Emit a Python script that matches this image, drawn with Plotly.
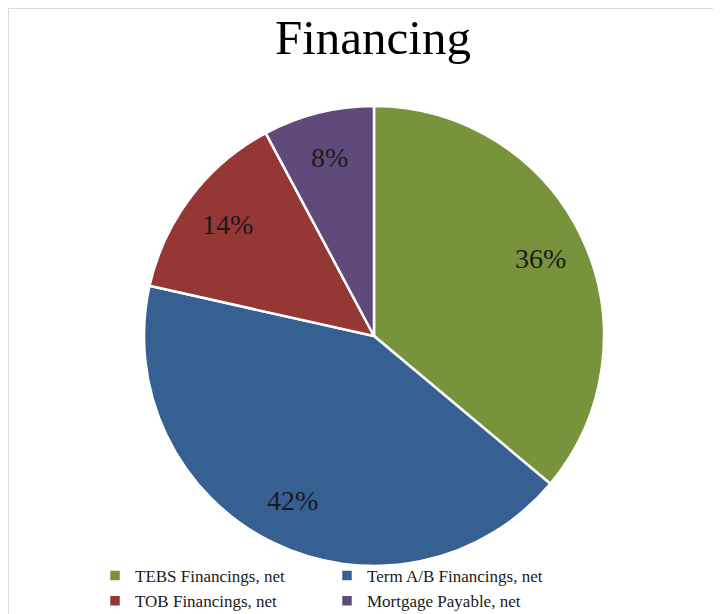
import math
import plotly.graph_objects as go

labels = ["TEBS Financings, net", "Term A/B Financings, net", "TOB Financings, net", "Mortgage Payable, net"]
values = [36.1, 42.4, 13.7, 7.8]
colors = ["#77933C", "#376092", "#953735", "#604A7B"]

# page is drawn inside the default 8px body margin
OFF = 8
W, H = 721 - OFF, 614 - OFF
ML, MR = 80, 100
PW = W - ML - MR  # plot-area width


def fx(px):  # page x -> paper fraction
    return (px - OFF - ML) / PW


def fy(py):  # page y -> paper fraction
    return 1 - (py - OFF) / H


cx, cy, r = 374, 336, 230

fig = go.Figure(go.Pie(
    labels=labels, values=values, sort=False, direction="clockwise", rotation=0,
    marker=dict(colors=colors, line=dict(color="white", width=2.5)),
    textinfo="none",
    domain=dict(x=[fx(cx - r), fx(cx + r)], y=[fy(cy + r), fy(cy - r)]),
    hovertemplate="%{label}: %{percent:.0%}<extra></extra>",
))

# percentage labels placed at each slice's mid-angle (derived from the values)
total = sum(values)
annotations = []
acc = 0.0
for v in values:
    mid = (acc + v / 2) / total * 2 * math.pi
    acc += v
    px = cx + 0.8 * r * math.sin(mid)
    py = cy - 0.8 * r * math.cos(mid)
    annotations.append(dict(
        x=fx(px), y=fy(py), xref="paper", yref="paper", showarrow=False,
        text=f"{round(v / total * 100)}%", xanchor="center", yanchor="middle",
        font=dict(family="Liberation Serif", size=28, color="#1a1a1a"),
    ))

fig.update_layout(
    width=W, height=H, margin=dict(l=ML, r=MR, t=0, b=0, autoexpand=False),
    paper_bgcolor="white", plot_bgcolor="white",
    title=dict(text="Financing", xref="container", yref="container",
               x=(373 - OFF) / W, xanchor="center", y=1 - (37 - OFF) / H, yanchor="middle",
               font=dict(family="Liberation Serif", size=49, color="black")),
    legend=dict(orientation="h", x=fx(95), xanchor="left", y=fy(558), yanchor="top",
                entrywidth=187, entrywidthmode="pixels", traceorder="normal",
                font=dict(family="Liberation Serif", size=17, color="#1a1a1a"),
                itemclick=False, tracegroupgap=0, bgcolor="rgba(0,0,0,0)"),
    annotations=annotations,
    shapes=[dict(type="rect", xref="paper", yref="paper", x0=fx(8.5), x1=fx(716), y0=fy(640), y1=fy(8.5),
                 line=dict(color="#d9d9d9", width=1), fillcolor="rgba(0,0,0,0)", layer="below")],
)

fig.write_html("out.html")
